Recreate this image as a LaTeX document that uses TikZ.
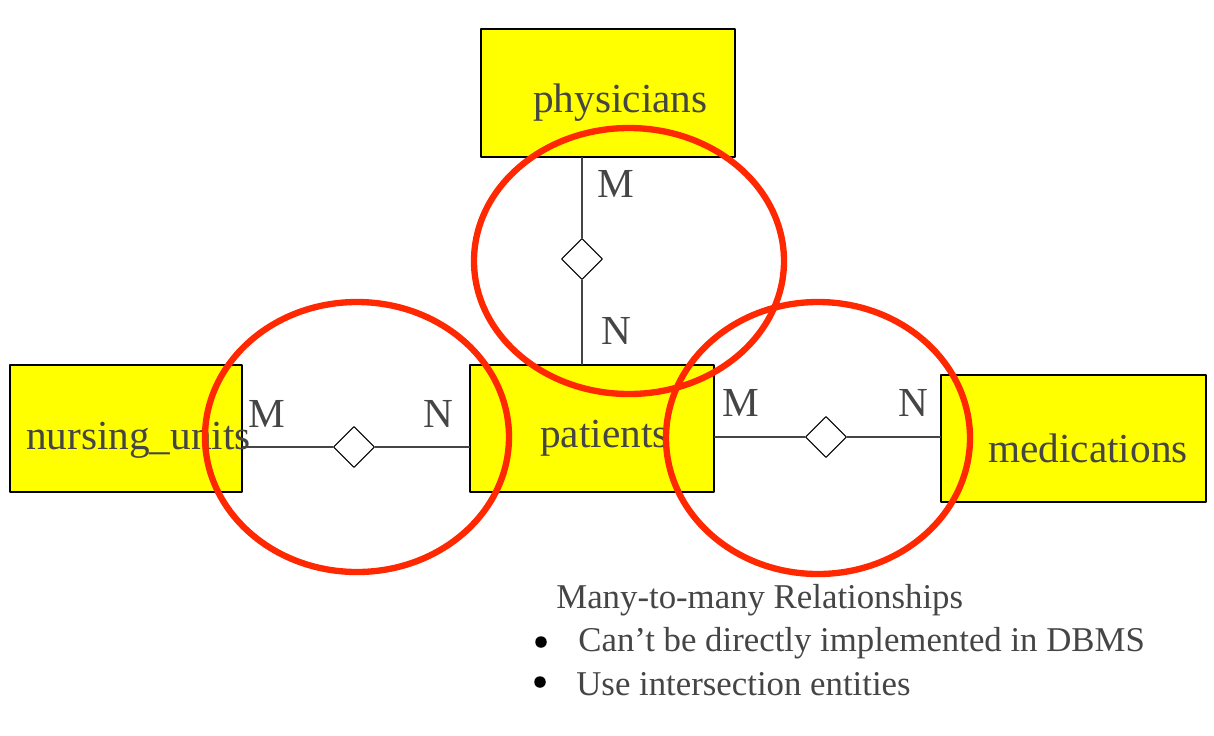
\documentclass[tikz,border=0pt]{standalone}
\usepackage{fontspec}
\setmainfont{Liberation Serif}
\usetikzlibrary{shapes.geometric}
\definecolor{ink}{HTML}{454545}
\definecolor{ringred}{HTML}{FF2800}
\definecolor{boxyellow}{HTML}{FFFF00}
\begin{document}
\begin{tikzpicture}[x=0.02cm,y=-0.02cm,line cap=round,line join=round,
    entity/.style={draw=black,line width=0.8pt,fill=boxyellow,inner sep=0pt,minimum height=2.54cm},
    entlabel/.style={text=ink,font=\fontsize{23.5}{28}\selectfont,xshift=0.25cm,yshift=-0.2cm},
    rel/.style={diamond,draw=black,line width=0.6pt,fill=white,inner sep=0pt,minimum width=0.82cm,minimum height=0.82cm},
    card/.style={text=ink,font=\fontsize{23.5}{28}\selectfont,inner sep=0pt},
    link/.style={draw=ink,line width=0.7pt},
    ring/.style={draw=ringred,line width=3.6pt},
    note/.style={text=ink,font=\fontsize{19.8}{24}\selectfont,inner sep=0pt,anchor=west},
    dot/.style={circle,fill=black,inner sep=0pt,minimum size=0.23cm}]
  \useasboundingbox (0,0) rectangle (1214,735);

  \node[entity,minimum width=5.08cm,minimum height=2.56cm,label={[entlabel]center:physicians}] (phys) at (608,93) {};
  \node[entity,minimum width=4.64cm,label={[entlabel,yshift=-0.04cm]center:nursing\_units}] (nurs) at (126,428.5) {};
  \node[entity,minimum width=4.88cm,label={[entlabel]center:patients}] (pat) at (592,428.5) {};
  \node[entity,minimum width=5.3cm,label={[entlabel,xshift=0.04cm]center:medications}] (med) at (1073.5,438.5) {};

  \node[rel] (treats) at (582,259) {};
  \node[rel] (houses) at (354,447) {};
  \node[rel] (takes) at (826,437) {};

  \draw[link] (treats |- phys.south) -- (treats) -- (treats |- pat.north);
  \draw[link] (houses -| nurs.east) -- (houses) -- (houses -| pat.west);
  \draw[link] (takes -| pat.east) -- (takes) -- (takes -| med.west);

  \node[card] (m1) at (616,184) {M};
  \node[card] (n1) at (616,331) {N};
  \node[card] (m2) at (267,414) {M};
  \node[card] (n2) at (438,414) {N};
  \node[card] (m3) at (741,403) {M};
  \node[card] (n3) at (913,403) {N};

  \draw[ring] (629,261) ellipse [x radius=155,y radius=133];
  \draw[ring] (357,437) ellipse [x radius=152,y radius=135];
  \draw[ring] (818,438) ellipse [x radius=152,y radius=136];

  \node[note] (title) at (556,600) {Many-to-many Relationships};
  \node[dot] (b1) at (541,642) {};
  \node[note] (t1) at (578,643) {Can’t be directly implemented in DBMS};
  \node[dot] (b2) at (540,682) {};
  \node[note] (t2) at (576,684) {Use intersection entities};
\end{tikzpicture}
\end{document}
